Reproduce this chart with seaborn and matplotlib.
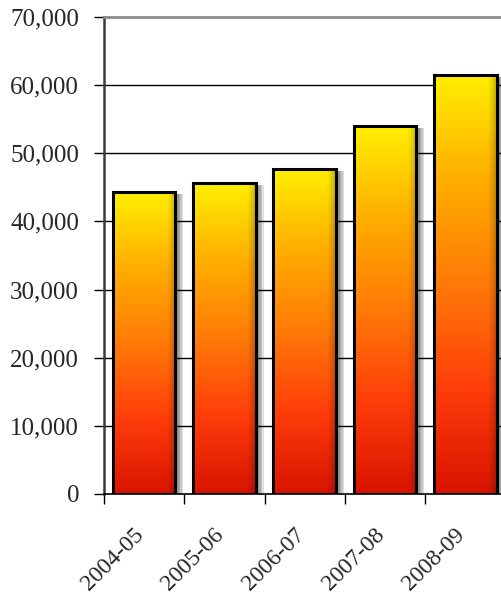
import numpy as np
import pandas as pd
import matplotlib
matplotlib.use('Agg')
import matplotlib.pyplot as plt
import matplotlib.transforms as mtransforms
from matplotlib.colors import LinearSegmentedColormap
from matplotlib.patches import Rectangle
from matplotlib.ticker import FuncFormatter, FixedLocator
import seaborn as sns

# Dados
anos = ['2004-05', '2005-06', '2006-07', '2007-08', '2008-09']
valores = [44300, 45600, 47700, 54000, 61500]

df = pd.DataFrame({'ano': anos, 'valor': valores})

sns.set_style('white')
plt.rcParams['font.family'] = 'serif'
plt.rcParams['font.serif'] = ['Liberation Serif', 'DejaVu Serif']
plt.rcParams['font.size'] = 17

fig = plt.figure(figsize=(5.02, 5.96), dpi=100)
# eixo maior que a figura à direita (o original está cortado)
ax = fig.add_axes([104/502, 102/596, 401.5/502, 477/596])

sns.barplot(data=df, x='ano', y='valor', ax=ax, width=0.78,
            color='orange', edgecolor='black', linewidth=2.2, zorder=4)

# gradiente vertical amarelo -> laranja -> vermelho
cmap = LinearSegmentedColormap.from_list('fogo', [
    (0.0, '#d81400'), (0.25, '#ff3d0a'), (0.5, '#ff7a08'),
    (0.75, '#ffad00'), (1.0, '#ffee00')])
ny, nx = 200, 60
vert = cmap(np.linspace(0, 1, ny))[:, :3]
xx = np.linspace(0, 1, nx)
horiz = 1.0 - 0.25 * np.clip((xx - 0.85) / 0.15, 0, 1) ** 1.5
horiz += 0.06 * np.clip(1 - xx / 0.1, 0, 1)
img = np.clip(vert[:, None, :] * horiz[None, :, None], 0, 1)

for p in ax.patches:
    x0, y0 = p.get_x(), p.get_y()
    w, h = p.get_width(), p.get_height()
    p.set_facecolor('none')
    # sombra suave
    for k in range(5):
        off = mtransforms.offset_copy(ax.transData, fig=fig, x=2 + 1.5 * k, y=-2, units='dots')
        ax.add_patch(Rectangle((x0, y0), w, h, transform=off, facecolor='black',
                               edgecolor='none', alpha=0.12, zorder=2))
    im = ax.imshow(img, extent=(x0, x0 + w, y0, y0 + h), origin='lower',
                   aspect='auto', zorder=3, interpolation='bilinear')
    im.set_clip_path(p)

ax.set_xlim(-0.5, 4.5)
ax.set_ylim(0, 70000)

# grade
ax.set_yticks(np.arange(0, 70001, 10000))
ax.yaxis.set_major_formatter(FuncFormatter(lambda v, pos: f'{int(v):,}'))
for yv in range(10000, 70000, 10000):
    ax.axhline(yv, color='black', linewidth=1, zorder=1)

ax.spines['right'].set_visible(False)
ax.spines['top'].set_color('#8c8c8c')
ax.spines['top'].set_linewidth(2)
ax.spines['left'].set_color('#3a3a3a')
ax.spines['left'].set_linewidth(1.8)
ax.spines['bottom'].set_color('black')
ax.spines['bottom'].set_linewidth(1.2)

ax.set_xticks(range(len(anos)))
ax.set_xticklabels(anos, rotation=45, ha='right', va='top',
                   rotation_mode='anchor', fontsize=17)
ax.xaxis.set_minor_locator(FixedLocator(np.arange(-0.5, 5, 1)))
ax.tick_params(axis='x', which='major', length=0, pad=22)
ax.tick_params(axis='x', which='minor', length=7, width=1, color='black', direction='out', bottom=True)
ax.tick_params(axis='y', length=7, width=1, color='black', direction='out', left=True, labelsize=18, pad=11)
desloc = mtransforms.ScaledTranslation(-11/100, 0, fig.dpi_scale_trans)
for lbl in ax.get_xticklabels():
    lbl.set_transform(lbl.get_transform() + desloc)

ax.set_xlabel('')
ax.set_ylabel('')

fig.savefig('out.png', dpi=100)
